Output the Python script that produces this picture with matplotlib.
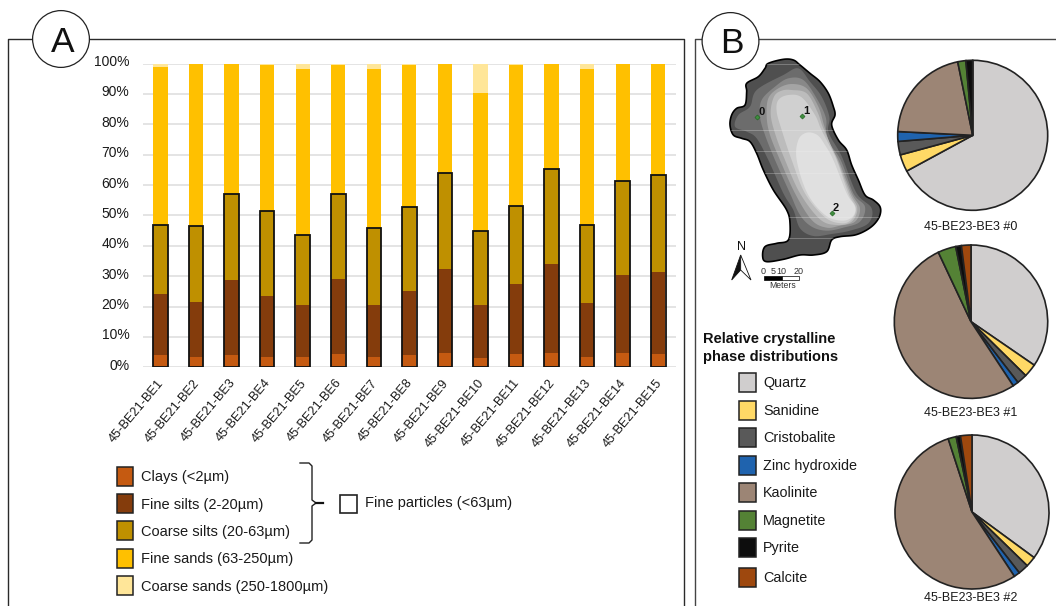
import numpy as np
import matplotlib
matplotlib.use("Agg")
import matplotlib.pyplot as plt
from matplotlib.patches import Circle, Polygon, Rectangle
from matplotlib.transforms import ScaledTranslation

plt.rcParams["font.family"] = ["Liberation Sans", "DejaVu Sans"]

W, H = 1056, 606

# panel A: grain size distribution, percent per sample
samples = [f"45-BE21-BE{i}" for i in range(1, 16)]
clays = [4.1, 3.4, 4.1, 3.4, 3.4, 4.4, 3.4, 4.1, 4.7, 3.1, 4.4, 4.7, 3.4, 4.7, 4.4]
fine_silts = [20.0, 18.1, 24.7, 20.2, 17.1, 24.8, 17.1, 21.0, 27.5, 17.4, 22.9, 29.4, 17.9, 25.7, 27.1]
coarse_silts = [22.8, 25.0, 28.2, 27.8, 23.0, 27.8, 25.5, 27.6, 31.7, 24.5, 25.7, 31.3, 25.6, 30.8, 31.9]
fine_sands = [52.0, 53.2, 42.8, 48.1, 54.6, 42.6, 52.2, 46.9, 36.0, 45.4, 46.4, 34.6, 51.2, 38.6, 36.6]
coarse_sands = [1.1, 0.3, 0.2, 0.5, 1.9, 0.4, 1.8, 0.4, 0.1, 9.6, 0.6, 0.0, 1.9, 0.2, 0.0]
size_series = [clays, fine_silts, coarse_silts, fine_sands, coarse_sands]
size_colors = ["#C55A11", "#843C0C", "#BF9000", "#FFC000", "#FFE699"]
size_labels = ["Clays (<2µm)", "Fine silts (2-20µm)", "Coarse silts (20-63µm)",
               "Fine sands (63-250µm)", "Coarse sands (250-1800µm)"]
pct_ticks = list(range(0, 101, 10))

# panel B: crystalline phases, percent per pie
phases = ["Quartz", "Sanidine", "Cristobalite", "Zinc hydroxide",
          "Kaolinite", "Magnetite", "Pyrite", "Calcite"]
phase_colors = ["#D0CECE", "#FFD966", "#595959", "#1F63AE",
                "#9C8575", "#548235", "#0D0D0D", "#9E480E"]
pie_0 = [67.1, 3.7, 2.9, 2.1, 21.0, 1.75, 1.45, 0.0]
pie_1 = [34.6, 2.8, 2.15, 1.2, 52.3, 3.8, 1.2, 2.0]
pie_2 = [35.1, 2.2, 2.2, 1.25, 54.3, 1.7, 0.9, 2.4]
pie_names = ["45-BE23-BE3 #0", "45-BE23-BE3 #1", "45-BE23-BE3 #2"]

# map contours, outermost first, traced on a 3x crop with its corner at (700, 60)
map_grays = ["#4F4F4F", "#6C6C6C", "#888888", "#A4A4A4", "#BCBCBC", "#D0D0D0", "#E0E0E0"]
map_shapes = [
    [(205, 10), (250, -2), (280, 0), (300, 15), (330, 40), (360, 65), (385, 100), (400, 140), (405, 165),
     (395, 195), (415, 240), (440, 270), (455, 315), (475, 360), (495, 405), (520, 420), (540, 440),
     (540, 465), (525, 490), (500, 510), (465, 525), (420, 530), (395, 540), (380, 575), (340, 585),
     (300, 585), (250, 598), (200, 605), (188, 590), (195, 560), (230, 550), (265, 540), (270, 490),
     (260, 450), (220, 390), (190, 330), (170, 280), (150, 245), (125, 235), (100, 225), (90, 195),
     (95, 165), (110, 145), (135, 135), (140, 95), (140, 70), (175, 50), (195, 25)],
    [(250, 45), (295, 25), (330, 65), (365, 110), (388, 170), (385, 215), (415, 270), (430, 300),
     (470, 400), (515, 445), (505, 490), (450, 512), (395, 522), (340, 528), (300, 505), (280, 450),
     (250, 400), (205, 300), (170, 235), (140, 215), (105, 200), (115, 165), (150, 140), (170, 90)],
    [(265, 55), (310, 60), (350, 115), (378, 175), (380, 235), (422, 300), (460, 400), (495, 440),
     (480, 485), (430, 503), (380, 512), (335, 500), (300, 465), (270, 400), (225, 300), (195, 225),
     (180, 170), (185, 120), (225, 80)],
    [(275, 72), (320, 85), (355, 140), (372, 195), (392, 260), (415, 300), (455, 400), (480, 445),
     (465, 485), (420, 497), (380, 503), (335, 480), (285, 400), (240, 300), (210, 225), (200, 170),
     (205, 115), (235, 85)],
    [(275, 90), (320, 100), (352, 155), (368, 200), (390, 250), (412, 300), (450, 400), (472, 445),
     (455, 485), (410, 495), (360, 478), (300, 400), (255, 300), (225, 220), (212, 160), (222, 110),
     (245, 92)],
    [(265, 105), (305, 112), (345, 165), (362, 205), (385, 250), (410, 300), (445, 400), (468, 445),
     (455, 478), (425, 490), (375, 472), (315, 400), (275, 300), (245, 210), (230, 155), (235, 120)],
    [(320, 218), (352, 225), (375, 255), (400, 300), (440, 400), (465, 440), (458, 470), (425, 482),
     (375, 465), (322, 400), (290, 300), (295, 240)],
]
map_sites = [(172, 172), (306, 168), (395, 460)]
map_site_names = ["0", "1", "2"]
map_streaks = [12, 210, 272, 340, 470, 535]
map_scale_ticks = [("0", 190), ("5", 220), ("10", 245), ("20", 295)]


def smooth_closed(points, per=10):
    # closed Catmull-Rom through the traced points
    pts = np.array(points, dtype=float)
    t = np.linspace(0, 1, per, endpoint=False)[:, None]
    out = []
    for i in range(len(pts)):
        p0, p1, p2, p3 = pts[i - 1], pts[i], pts[(i + 1) % len(pts)], pts[(i + 2) % len(pts)]
        out.append(0.5 * (2 * p1 + (p2 - p0) * t + (2 * p0 - 5 * p1 + 4 * p2 - p3) * t ** 2
                          + (3 * p1 - p0 - 3 * p2 + p3) * t ** 3))
    return np.vstack(out)


def zoom_map(xy):
    xy = np.atleast_2d(np.asarray(xy, dtype=float))
    return np.column_stack([700 + xy[:, 0] / 3, 60 + xy[:, 1] / 3])


fig = plt.figure(figsize=(W / 100, H / 100), dpi=100, facecolor="white")

# overlay in pixel coordinates for frames, legends and the map
ov = fig.add_axes([0, 0, 1, 1], zorder=5)
ov.set_xlim(0, W)
ov.set_ylim(H, 0)
ov.axis("off")
ov.patch.set_alpha(0)

# bar chart
ax = fig.add_axes([142.7 / W, 1 - 367.3 / H, 533.3 / W, 303.8 / H])
x = np.arange(len(samples))
bottom = np.zeros(len(samples))
for vals, col in zip(size_series, size_colors):
    ax.bar(x, vals, width=0.4, bottom=bottom, color=col, linewidth=0, zorder=3)
    bottom += np.array(vals)
fine_total = np.array(clays) + np.array(fine_silts) + np.array(coarse_silts)
ax.bar(x, fine_total, width=0.41, fill=False, edgecolor="#111111", linewidth=1.3, zorder=4)
ax.set_xlim(-0.5, len(samples) - 0.5)
ax.set_ylim(0, 100)
ax.set_yticks(pct_ticks)
ax.set_yticklabels([f"{v}%" for v in pct_ticks], fontsize=10, color="#1a1a1a")
ax.set_xticks(x)
ax.set_xticklabels(samples, rotation=50, ha="right", va="top", rotation_mode="anchor",
                   fontsize=9.2, color="#1a1a1a")
ax.tick_params(axis="both", length=0)
ax.tick_params(axis="y", pad=9.5)
ax.tick_params(axis="x", pad=7)
ax.grid(axis="y", color="#DDDDDD", linewidth=1.1, zorder=0)
ax.set_axisbelow(True)
for s in ax.spines.values():
    s.set_visible(False)
lift = ScaledTranslation(0, 3 / 100, fig.dpi_scale_trans)
for lab in ax.get_yticklabels():
    lab.set_transform(lab.get_transform() + lift)
nudge = ScaledTranslation(-3 / 100, 0, fig.dpi_scale_trans)
for lab in ax.get_xticklabels():
    lab.set_transform(lab.get_transform() + nudge)

# panel frames and letters
frame = "#2a2a2a"
ov.plot([8, 8, 683.5, 683.5], [606, 38.5, 38.5, 606], color=frame, lw=1.0)
ov.plot([695, 695, 1056], [606, 38.5, 38.5], color="#444444", lw=1.0)
for cx, cy, tx, ty, letter in [(61, 39, 62.5, 39, "A"), (730.5, 41, 732, 39.7, "B")]:
    ov.add_patch(Circle((cx, cy), 28.4, fc="white", ec="#222222", lw=0.9, zorder=3))
    ov.text(tx, ty, letter, fontsize=25.5, ha="center", va="center_baseline", color="#111111", zorder=4)

# panel A legend
for i, (lab, col) in enumerate(zip(size_labels, size_colors)):
    yc = 476 + i * 27.4
    ov.add_patch(Rectangle((116.5, yc - 9.5), 16.5, 19, fc=col, ec="#222222", lw=1.1))
    ov.text(140.7, yc + 1.2, lab, fontsize=10.5, va="center", color="#1a1a1a")
ov.plot([300, 309, 312, 312, 316], [463, 463, 466, 500, 503], color="#222222", lw=1.0)
ov.plot([300, 309, 312, 312, 316], [543, 543, 540, 506, 503], color="#222222", lw=1.0)
ov.plot([316, 323], [503, 503], color="#111111", lw=1.6)
ov.add_patch(Rectangle((340, 495), 17, 18, fc="white", ec="#222222", lw=1.2))
ov.text(365, 503.5, "Fine particles (<63µm)", fontsize=10.5, va="center", color="#1a1a1a")

# map
outline = None
for i, (pts, gray) in enumerate(zip(map_shapes, map_grays)):
    patch = Polygon(zoom_map(smooth_closed(pts)), closed=True, fc=gray, ec="none", lw=0)
    ov.add_patch(patch)
    if i == 0:
        outline = patch
for zy in map_streaks:
    yy = zoom_map((0, zy))[0, 1]
    ln, = ov.plot([725, 885], [yy, yy], color="#EFEFEF", lw=0.5, alpha=0.4)
    ln.set_clip_path(outline)
ov.add_patch(Polygon(zoom_map(smooth_closed(map_shapes[0])), closed=True, fill=False, ec="black", lw=1.2))
for (sx, sy), name in zip(map_sites, map_site_names):
    site = zoom_map((sx, sy))[0]
    ov.plot(site[0], site[1], marker="D", ms=2.6, mfc="#3E8E3E", mec="#1E5E1E", mew=0.4,
            zorder=3, linestyle="none")
    ov.text(site[0] + 4.4, site[1] - 5.3, name, fontsize=8, fontweight="bold", ha="center", va="center",
            color="#111111", zorder=3)

# north arrow and scale bar
ov.text(741, 247.5, "N", fontsize=9, ha="center", va="center", color="#111111")
ov.add_patch(Polygon(zoom_map([(122, 585), (95, 660), (122, 630)]), fc="#111111", ec="#111111", lw=0.6))
ov.add_patch(Polygon(zoom_map([(122, 585), (153, 660), (122, 630)]), fc="white", ec="#111111", lw=0.6))
ov.add_patch(Rectangle((764, 276), 17.7, 4, fc="black", ec="black", lw=0.5))
ov.add_patch(Rectangle((781.7, 276), 17.7, 4, fc="white", ec="black", lw=0.5))
for name, zx in map_scale_ticks:
    ov.text(700 + zx / 3, 271, name, fontsize=6.5, ha="center", va="center", color="#333333")
ov.text(782.5, 286, "Meters", fontsize=6.2, ha="center", va="center", color="#333333")

# panel B legend
ov.text(703, 339.5, "Relative crystalline", fontsize=10.5, fontweight="bold", va="center", color="#111111")
ov.text(703, 357.5, "phase distributions", fontsize=10.5, fontweight="bold", va="center", color="#111111")
phase_rows = [382, 410, 437, 465, 492, 520, 547, 577]
for name, col, yc in zip(phases, phase_colors, phase_rows):
    ov.add_patch(Rectangle((739, yc - 9.5), 17, 19, fc=col, ec="#222222", lw=1.1))
    ov.text(763, yc + 1.2, name, fontsize=10.4, va="center", color="#1a1a1a")

# pies
pie_geom = [(972.7, 135.3, 75), (971, 321.7, 76.7), (972, 512, 77)]
pie_label_y = [227, 413, 598]
for vals, name, (cx, cy, r), ly in zip([pie_0, pie_1, pie_2], pie_names, pie_geom, pie_label_y):
    pie_ax = fig.add_axes([(cx - r - 2) / W, 1 - (cy + r + 2) / H, (2 * r + 4) / W, (2 * r + 4) / H])
    pie_ax.pie(vals, colors=phase_colors, startangle=90, counterclock=False, radius=r / (r + 2),
               wedgeprops={"edgecolor": "#222222", "linewidth": 1.2})
    pie_ax.set_xlim(-1, 1)
    pie_ax.set_ylim(-1, 1)
    ov.text(971, ly, name, fontsize=9, ha="center", va="center", color="#1a1a1a")

fig.savefig("out.png", dpi=100)
